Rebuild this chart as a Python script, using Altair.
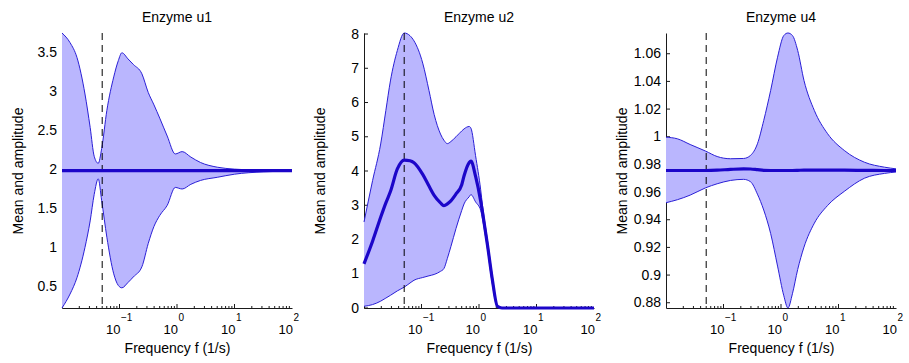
import altair as alt
import pandas as pd

# ---------------------------------------------------------------- data
# Enzyme u1: envelope (upper / lower) and mean of the response per frequency
u1_freq = [0.0100, 0.0138, 0.0182, 0.0251, 0.0309, 0.0363, 0.0427, 0.0490,
           0.0603, 0.0794, 0.0955, 0.110, 0.141, 0.174, 0.245, 0.316, 0.398,
           0.501, 0.676, 0.933, 1.23, 1.74, 2.57, 5.01, 10.0, 31.6, 100.0]
u1_upper = [3.754, 3.63, 3.44, 2.97, 2.54, 2.17, 2.08, 2.27, 2.76, 3.19, 3.40,
            3.50, 3.42, 3.35, 3.23, 2.99, 2.83, 2.66, 2.43, 2.20, 2.23, 2.16,
            2.09, 2.03, 2.005, 1.99, 1.985]
u1_lower = [0.221, 0.40, 0.61, 1.00, 1.34, 1.68, 1.88, 1.60, 1.13, 0.66, 0.51,
            0.48, 0.55, 0.62, 0.75, 1.05, 1.27, 1.41, 1.54, 1.77, 1.75, 1.81,
            1.86, 1.90, 1.94, 1.97, 1.98]
u1_mean = [1.985] * len(u1_freq)

# Enzyme u2
u2_freq = [0.0100, 0.0141, 0.0195, 0.0240, 0.0288, 0.0380, 0.0501, 0.0631,
           0.0741, 0.105, 0.135, 0.166, 0.214, 0.245, 0.282, 0.324, 0.398,
           0.501, 0.550, 0.676, 0.724, 0.871, 1.07, 1.15, 1.41, 1.70, 2.09,
           2.51, 10.0, 100.0]
u2_upper = [2.51, 3.72, 4.79, 5.77, 6.63, 7.52, 8.03, 7.95, 7.80, 7.15, 6.35,
            5.65, 5.08, 4.90, 4.80, 4.86, 5.00, 5.17, 5.23, 5.30, 5.25, 4.45,
            3.45, 3.00, 1.95, 0.95, 0.07, 0.0, 0.0, 0.0]
u2_lower = [0.05, 0.10, 0.20, 0.29, 0.37, 0.50, 0.61, 0.73, 0.81, 0.89, 0.94,
            0.98, 1.07, 1.15, 1.45, 1.79, 2.32, 2.85, 3.04, 3.25, 3.31, 3.10,
            2.85, 2.60, 1.70, 0.72, 0.03, 0.0, 0.0, 0.0]
u2_mean = [1.29, 1.95, 2.65, 3.07, 3.40, 4.06, 4.32, 4.30, 4.24, 3.90, 3.56,
           3.29, 3.07, 2.99, 3.04, 3.13, 3.33, 3.60, 3.86, 4.25, 4.29, 3.85,
           3.12, 2.80, 1.82, 0.85, 0.05, 0.0, 0.0, 0.0]

# Enzyme u4
u4_freq = [0.0100, 0.0158, 0.0263, 0.0490, 0.0776, 0.132, 0.224, 0.295, 0.389,
           0.501, 0.661, 0.871, 1.12, 1.32, 1.58, 1.95, 2.51, 3.80, 6.46,
           12.6, 28.2, 63.1, 100.0]
u4_upper = [0.9997, 0.9985, 0.9944, 0.9896, 0.9857, 0.9841, 0.9843, 0.9865,
            0.9949, 1.0118, 1.0335, 1.0575, 1.0732, 1.0750, 1.0732, 1.0624,
            1.0407, 1.0190, 1.0022, 0.9901, 0.9816, 0.9780, 0.9768]
u4_lower = [0.9523, 0.9545, 0.9578, 0.9631, 0.9660, 0.9684, 0.9692, 0.9675,
            0.9585, 0.9470, 0.9300, 0.9065, 0.8850, 0.8762, 0.8865, 0.9040,
            0.9202, 0.9375, 0.9503, 0.9605, 0.9700, 0.9735, 0.9745]
u4_mean = [0.9756, 0.9756, 0.9756, 0.9756, 0.9758, 0.9764, 0.9768, 0.9767,
           0.9762, 0.9757, 0.9756, 0.9756, 0.9756, 0.9756, 0.9756, 0.9757,
           0.9759, 0.9759, 0.9759, 0.9758, 0.9757, 0.9756, 0.9756]

# Reference frequency marked by the dashed line
marker_freq = 0.05

# Axis ticks and labels (decades are written as 10 with a raised exponent)
decade_values = [0.1, 1, 10, 100]
decade_exponents = ["\u22121", "0", "1", "2"]
minor_values = [m * 10.0 ** k for k in (-2, -1, 0, 1) for m in range(2, 10)]
u1_yticks = [0.5, 1, 1.5, 2, 2.5, 3, 3.5]
u2_yticks = [0, 1, 2, 3, 4, 5, 6, 7, 8]
u4_yticks = [0.88, 0.9, 0.92, 0.94, 0.96, 0.98, 1.0, 1.02, 1.04, 1.06]

# ---------------------------------------------------------------- style
PLOT_W = 230
PLOT_H = 275
FONT = "Liberation Sans"
FILL = "#bab6fe"
EDGE = "#2a1fd6"
MEAN = "#1c06c9"
AXIS = "#1a1a1a"
FREQ_DOMAIN = [0.01, 100]


def panel(title, freq, upper, lower, mean, ydomain, yticks):
    df = pd.DataFrame({"f": freq, "upper": upper, "lower": lower, "mean": mean})
    xscale = alt.Scale(type="log", domain=FREQ_DOMAIN, nice=False)
    yscale = alt.Scale(domain=ydomain, nice=False, zero=False)

    x_axis = alt.Axis(
        labels=False, ticks=False, grid=False, domain=True, domainColor=AXIS,
        title="Frequency f (1/s)", titleX=PLOT_W / 2, titleY=44.5,
        titleBaseline="alphabetic", titleAlign="center",
        titleFont=FONT, titleFontSize=14, titleFontWeight="normal",
        titleColor="black",
    )
    y_axis = alt.Axis(
        values=yticks, format="~g", ticks=False, tickSize=0, grid=False,
        domain=True, domainColor=AXIS, labelFont=FONT, labelFontSize=14,
        labelColor="black", labelPadding=5.5, labelOverlap=False,
        labelFlush=False,
        title="Mean and amplitude", titleX=-40, titleY=PLOT_H / 2,
        titleAngle=270, titleBaseline="alphabetic", titleAlign="center",
        titleFont=FONT, titleFontSize=14, titleFontWeight="normal",
        titleColor="black",
    )

    # every layer shares the same x and y definitions so the axes merge
    fx = alt.X("f:Q", scale=xscale, axis=x_axis)

    def fy(field):
        return alt.Y(field, type="quantitative", scale=yscale, axis=y_axis)

    # inward tick marks
    xt_major = alt.Chart(pd.DataFrame({"f": decade_values[:-1]})).mark_rule(
        color=AXIS, strokeWidth=1
    ).encode(x=fx, y=alt.value(PLOT_H), y2=alt.value(PLOT_H - 4))
    xt_minor = alt.Chart(pd.DataFrame({"f": minor_values})).mark_rule(
        color=AXIS, strokeWidth=1
    ).encode(x=fx, y=alt.value(PLOT_H), y2=alt.value(PLOT_H - 2))
    yt = alt.Chart(pd.DataFrame({"upper": yticks})).mark_rule(
        color=AXIS, strokeWidth=1
    ).encode(y=fy("upper"), x=alt.value(0), x2=alt.value(4))

    band = alt.Chart(df).mark_area(
        color=FILL, opacity=1, interpolate="monotone"
    ).encode(x=fx, y=fy("upper"), y2="lower:Q")
    up_line = alt.Chart(df).mark_line(
        color=EDGE, strokeWidth=1, interpolate="monotone"
    ).encode(x=fx, y=fy("upper"))
    lo_line = alt.Chart(df).mark_line(
        color=EDGE, strokeWidth=1, interpolate="monotone"
    ).encode(x=fx, y=fy("lower"))
    dash = alt.Chart(pd.DataFrame({"f": [marker_freq]})).mark_rule(
        color="black", strokeWidth=1, strokeDash=[7, 5]
    ).encode(x=fx)
    mean_line = alt.Chart(df).mark_line(
        color=MEAN, strokeWidth=3.2, interpolate="monotone"
    ).encode(x=fx, y=fy("mean"))

    # decade labels: "10" right-aligned just before the exponent
    lab = pd.DataFrame({"f": decade_values, "e": decade_exponents})
    base10 = alt.Chart(lab).mark_text(
        align="right", baseline="alphabetic", dx=1.0,
        font=FONT, fontSize=13, color="black"
    ).encode(x=fx, y=alt.value(PLOT_H + 26), text=alt.value("10"))
    expo = alt.Chart(lab).mark_text(
        align="left", baseline="alphabetic", dx=1.5,
        font=FONT, fontSize=10, color="black"
    ).encode(x=fx, y=alt.value(PLOT_H + 13), text="e:N")

    heading = alt.Chart(pd.DataFrame({"t": [title]})).mark_text(
        align="center", baseline="alphabetic", font=FONT, fontSize=14,
        color="black"
    ).encode(x=alt.value(PLOT_W / 2), y=alt.value(-11.5), text="t:N")

    return alt.layer(
        yt, xt_major, xt_minor, band, up_line, lo_line, dash, mean_line,
        base10, expo, heading,
    ).properties(width=PLOT_W, height=PLOT_H)


p1 = panel("Enzyme u1", u1_freq, u1_upper, u1_lower, u1_mean,
           [0.221, 3.754], u1_yticks)
p2 = panel("Enzyme u2", u2_freq, u2_upper, u2_lower, u2_mean,
           [0.0, 8.03], u2_yticks)
p3 = panel("Enzyme u4", u4_freq, u4_upper, u4_lower, u4_mean,
           [0.8762, 1.0750], u4_yticks)

chart = alt.hconcat(p1, p2, p3, spacing=72).properties(
    bounds="flush",
    padding={"left": 11, "top": 10, "right": 0, "bottom": 0},
    background="white",
).configure_view(stroke=None)

chart.save("out.html", embed_options={"renderer": "svg", "actions": False})
